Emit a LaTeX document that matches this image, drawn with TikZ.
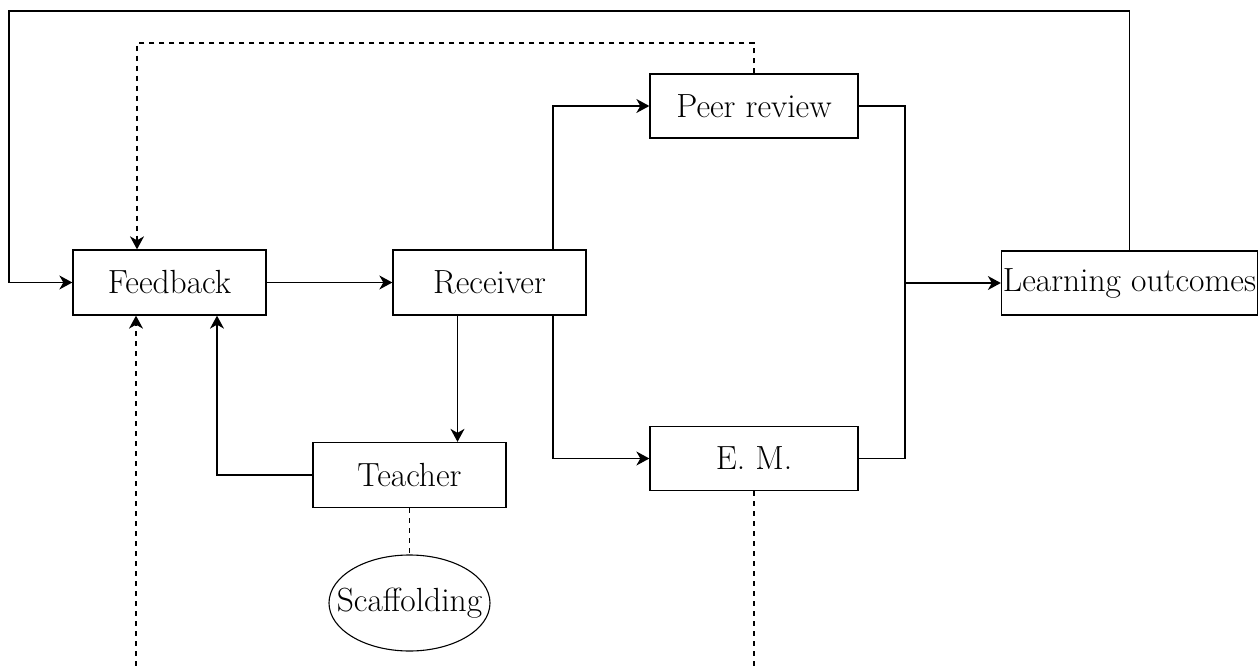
\documentclass[tikz,border=0pt]{standalone}
\usepackage{fontspec}
\usetikzlibrary{arrows.meta,shapes.geometric}
\begin{document}
\begin{tikzpicture}[x=1pt,y=-1pt,
  line width=1.3pt,
  >={Stealth[length=13pt,width=14pt,inset=4pt]},
  every node/.style={font=\fontsize{33.5pt}{40pt}\selectfont, inner sep=0pt},
  block/.style={draw, rectangle, minimum width=193pt, minimum height=65pt},
  wideblock/.style={draw, rectangle, minimum width=208pt, minimum height=64pt},
  oval/.style={draw, ellipse, line width=1.1pt, inner xsep=-17pt, minimum width=161pt, minimum height=96pt},
  dsh/.style={dash pattern=on 5pt off 5pt}]
  \useasboundingbox (0,0) rectangle (1259,666);

  % boxes
  \node[block] (fb) at (169.5,282.5) {Feedback};
  \node[block] (rc) at (489.5,282.5) {Receiver};
  \node[wideblock] (pr) at (754,106) {Peer review};
  \node[wideblock] (em) at (754,458.5) {E. M.};
  \node[block] (te) at (409.5,475) {Teacher};
  \node[oval] (sc) at (409.5,603) {Scaffolding};
  \node[draw, rectangle, minimum width=256pt, minimum height=64pt] (lo) at (1129.5,283) {Learning outcomes};

  % routing points
  \coordinate (m) at (905,283);
  \coordinate (tl) at (9,11);
  \coordinate (dt) at (137,43);
  \coordinate (b1) at (136,666);
  \coordinate (b2) at (753.5,666);

  % main flow
  \draw[->] (fb.east) -- (rc.west);
  \draw[->] ([xshift=63.5pt]rc.north) |- (pr.west);
  \draw[->] ([xshift=63.5pt]rc.south) |- (em.west);
  \draw[->] ([xshift=-32pt]rc.south) -- ([xshift=-32pt]rc.south |- te.north);
  \draw[->] (te.west) -| ([xshift=47.5pt]fb.south);
  \draw[dsh] (te.south) -- (sc.north);

  % merge into outcomes
  \draw (pr.east) -| (m) |- (em.east);
  \draw[->] (m) -- (lo.west);

  % outer loop back to feedback
  \draw[->] (lo.north) |- (tl) |- (fb.west);

  % dashed links
  \draw[dsh,->] (pr.north) |- (dt) -- (dt |- fb.north);
  \draw[dsh,->] (b1) -- (b1 |- fb.south);
  \draw[dsh] (em.south) -- (em.south |- b2);
\end{tikzpicture}
\end{document}
